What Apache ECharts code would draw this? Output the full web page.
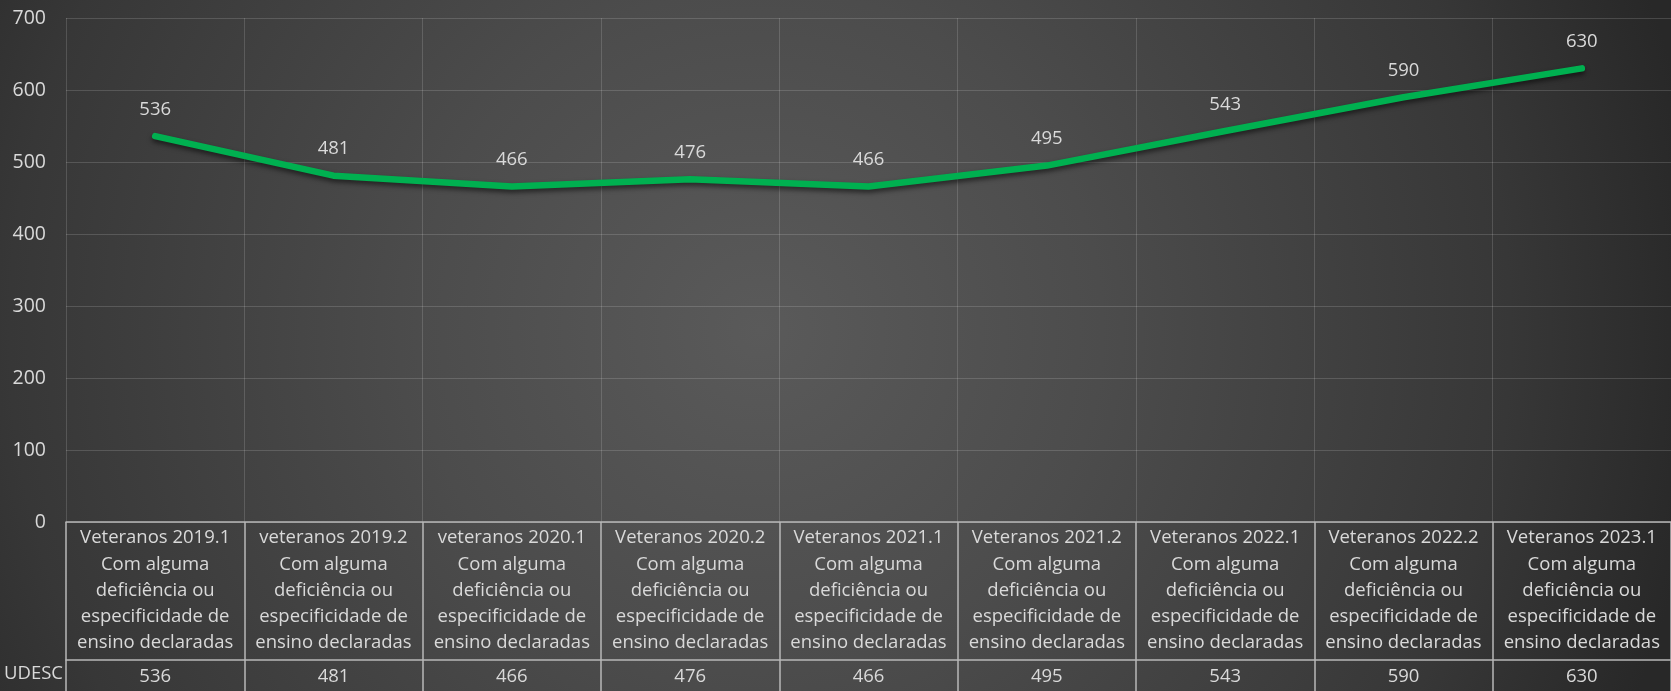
<!DOCTYPE html>
<html>
<head>
<meta charset="utf-8">
<script src="https://cdn.jsdelivr.net/npm/echarts@6/dist/echarts.min.js"></script>
<style>
  html, body { margin: 0; padding: 0; background: #333; }
  #echart { width: 1671px; height: 691px; }
</style>
</head>
<body>
<div id="echart"></div>
<script>
// dados do gráfico
var categorias = [
    'Veteranos 2019.1\nCom alguma\ndeficiência ou\nespecificidade de\nensino declaradas',
    'veteranos 2019.2\nCom alguma\ndeficiência ou\nespecificidade de\nensino declaradas',
    'veteranos 2020.1\nCom alguma\ndeficiência ou\nespecificidade de\nensino declaradas',
    'Veteranos 2020.2\nCom alguma\ndeficiência ou\nespecificidade de\nensino declaradas',
    'Veteranos 2021.1\nCom alguma\ndeficiência ou\nespecificidade de\nensino declaradas',
    'Veteranos 2021.2\nCom alguma\ndeficiência ou\nespecificidade de\nensino declaradas',
    'Veteranos 2022.1\nCom alguma\ndeficiência ou\nespecificidade de\nensino declaradas',
    'Veteranos 2022.2\nCom alguma\ndeficiência ou\nespecificidade de\nensino declaradas',
    'Veteranos 2023.1\nCom alguma\ndeficiência ou\nespecificidade de\nensino declaradas'
];
var valores = [536, 481, 466, 476, 466, 495, 543, 590, 630];
var nomeSerie = 'UDESC';
var eixoY = { min: 0, max: 700, interval: 100 };

var fonte = 'Open Sans';
var corTexto = '#d9d9d9';
var corTabela = '#b8b8b8';

var myChart = echarts.init(document.getElementById('echart'));
var option = {
    // fundo com degradê radial (mais claro no centro)
    backgroundColor: {
        type: 'radial', x: 760, y: 330, r: 950, global: true,
        colorStops: [
            { offset: 0, color: '#5a5a5a' },
            { offset: 0.36, color: '#4c4c4c' },
            { offset: 0.79, color: '#373737' },
            { offset: 0.97, color: '#2a2a2a' },
            { offset: 1, color: '#282828' }
        ]
    },
    textStyle: { fontFamily: fonte },
    grid: { left: 66, top: 18, width: 1611, height: 504 },
    xAxis: [{
        type: 'category',
        data: categorias,
        boundaryGap: true,
        axisLine: { lineStyle: { color: corTabela, width: 1.5 } },
        axisTick: { show: true, length: 172, lineStyle: { color: corTabela, width: 1.5 } },
        axisLabel: {
            color: corTexto, fontSize: 18.5, lineHeight: 26.2, margin: 3,
            interval: 0, fontFamily: fonte
        },
        splitLine: { show: true, lineStyle: { color: 'rgba(255,255,255,0.15)', width: 1 } }
    }, {
        type: 'category',
        data: valores.map(String),
        position: 'bottom',
        offset: 138,
        boundaryGap: true,
        axisLine: { lineStyle: { color: corTabela, width: 1.5 } },
        axisTick: { show: true, length: 40, lineStyle: { color: corTabela, width: 1.5 } },
        axisLabel: { color: corTexto, fontSize: 18.5, margin: 7, interval: 0, fontFamily: fonte }
    }],
    yAxis: {
        type: 'value',
        min: eixoY.min, max: eixoY.max, interval: eixoY.interval,
        axisLine: { show: false },
        axisTick: { show: false },
        axisLabel: { color: corTexto, fontSize: 19.5, margin: 20, fontFamily: fonte },
        splitLine: { lineStyle: { color: 'rgba(255,255,255,0.15)', width: 1 } }
    },
    graphic: [{
        type: 'text',
        right: 1608,
        top: 664,
        style: { text: nomeSerie, fill: corTexto, font: '18.5px "Open Sans"' }
    }],
    series: [{
        name: nomeSerie,
        type: 'line',
        data: valores,
        symbol: 'circle',
        symbolSize: 2,
        showSymbol: true,
        lineStyle: {
            color: '#00b050', width: 6.5, cap: 'round', join: 'round',
            shadowColor: 'rgba(0,0,0,0.55)', shadowBlur: 5, shadowOffsetY: 3
        },
        itemStyle: { color: '#00b050' },
        label: {
            show: true, position: 'top', distance: 16,
            color: corTexto, fontSize: 18.5, fontFamily: fonte
        },
        silent: true
    }]
};
myChart.setOption(option);
</script>
</body>
</html>
